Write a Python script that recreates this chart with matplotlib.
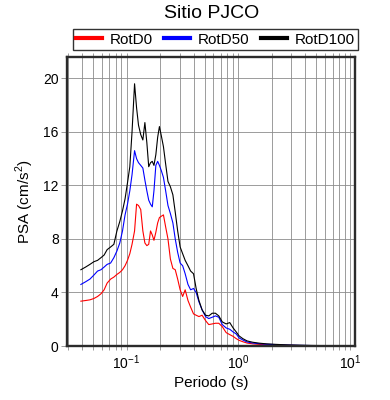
import matplotlib
matplotlib.use("Agg")
import matplotlib.pyplot as plt
from matplotlib.ticker import LogLocator, NullFormatter, MultipleLocator

plt.rcParams['font.family'] = ['Liberation Sans', 'DejaVu Sans']
plt.rcParams['mathtext.fontset'] = 'custom'
plt.rcParams['mathtext.rm'] = 'Liberation Sans'

# periods (s)
periodo = [0.039, 0.043, 0.047, 0.051, 0.055, 0.059, 0.063, 0.067, 0.072, 0.077,
           0.082, 0.087, 0.092, 0.097, 0.102, 0.107, 0.112, 0.118, 0.123, 0.128,
           0.134, 0.140, 0.146, 0.152, 0.158, 0.164, 0.170, 0.176, 0.183, 0.190,
           0.197, 0.205, 0.214, 0.224, 0.235, 0.247, 0.26, 0.273, 0.287, 0.302,
           0.318, 0.335, 0.355, 0.375, 0.398, 0.42, 0.445, 0.475, 0.51, 0.545,
           0.585, 0.625, 0.67, 0.72, 0.78, 0.84, 0.9, 0.96, 1.02, 1.1,
           1.2, 1.35, 1.55, 1.8, 2.2, 2.8, 3.5, 4.5, 6.0, 8.0, 11.0]

rotd0 = [3.35, 3.4, 3.45, 3.55, 3.7, 3.9, 4.2, 4.7, 5.0, 5.15,
         5.35, 5.5, 5.7, 6.0, 6.4, 6.9, 7.6, 8.6, 10.6, 10.5,
         10.2, 8.6, 7.7, 7.5, 7.6, 8.6, 8.3, 7.9, 8.5, 9.2,
         9.6, 9.7, 9.8, 8.9, 8.0, 6.5, 5.8, 5.7, 5.0, 4.2,
         3.7, 4.2, 3.4, 2.9, 2.4, 2.3, 2.2, 2.3, 1.9, 1.6,
         1.65, 1.7, 1.7, 1.45, 1.0, 0.85, 0.72, 0.55, 0.42, 0.32,
         0.22, 0.16, 0.12, 0.09, 0.07, 0.05, 0.035, 0.025, 0.02, 0.012, 0.008]

rotd50 = [4.6, 4.8, 5.0, 5.3, 5.6, 5.7, 5.9, 6.1, 6.2, 6.6,
          7.1, 7.7, 8.6, 9.8, 10.6, 11.6, 12.8, 14.6, 14.0, 13.7,
          13.5, 13.3, 12.4, 11.6, 10.9, 10.6, 10.4, 11.6, 13.5, 13.8,
          13.5, 13.1, 12.6, 11.6, 10.5, 9.9, 9.2, 8.0, 7.0, 6.2,
          6.0, 5.4, 4.6, 4.2, 4.3, 4.0, 3.3, 2.7, 2.2, 2.05,
          2.15, 2.25, 2.15, 1.6, 1.35, 1.25, 1.05, 0.9, 0.6, 0.45,
          0.3, 0.22, 0.17, 0.13, 0.1, 0.07, 0.05, 0.035, 0.025, 0.015, 0.01]

rotd100 = [5.7, 5.9, 6.1, 6.3, 6.4, 6.6, 6.8, 7.2, 7.4, 7.6,
           8.6, 9.3, 10.1, 11.0, 12.2, 13.4, 16.0, 19.6, 17.8, 16.5,
           15.8, 15.4, 16.7, 15.2, 13.4, 13.7, 13.8, 13.5, 14.3, 15.6,
           16.4, 15.7, 14.9, 13.6, 12.3, 11.9, 11.3, 10.0, 8.6, 7.4,
           6.9, 6.4, 6.0, 5.6, 5.4, 4.3, 3.4, 2.7, 2.3, 2.25,
           2.45, 2.45, 2.25, 1.8, 1.65, 1.75, 1.35, 1.05, 0.75, 0.55,
           0.38, 0.28, 0.21, 0.16, 0.12, 0.08, 0.06, 0.04, 0.03, 0.02, 0.01]

fig = plt.figure(figsize=(3.9, 4.0), dpi=100)
ax = fig.add_axes([67/390, 1 - 346/400, (354.5 - 67)/390, (346 - 57)/400])

ax.plot(periodo, rotd0, color='red', lw=0.8, label='RotD0')
ax.plot(periodo, rotd50, color='blue', lw=0.8, label='RotD50')
ax.plot(periodo, rotd100, color='black', lw=0.8, label='RotD100')

ax.set_xscale('log')
ax.set_xlim(0.0293, 11.0)
ax.set_ylim(0, 21.6)
ax.yaxis.set_major_locator(MultipleLocator(4))
ax.xaxis.set_major_locator(LogLocator(base=10, numticks=10))
ax.xaxis.set_minor_locator(LogLocator(base=10, subs=range(2, 10), numticks=20))
ax.xaxis.set_minor_formatter(NullFormatter())

grid_col = '#8c8c8c'
ax.grid(True, which='both', axis='x', color=grid_col, lw=0.6)
ax.grid(True, which='major', axis='y', color=grid_col, lw=0.6)
ax.set_axisbelow(True)
ax.tick_params(axis='x', which='both', direction='out', length=3, width=0.6,
               color=grid_col, top=True, labelsize=10, pad=2)
ax.tick_params(axis='y', which='major', direction='out', length=4, width=0.6,
               color=grid_col, labelsize=10, pad=2)
for s in ax.spines.values():
    s.set_linewidth(1.7)
    s.set_color('#2b2b2b')

ax.set_xlabel('Periodo (s)', fontsize=11, labelpad=3)
ax.set_ylabel('PSA (cm/s$^2$)', fontsize=11, labelpad=5)

fig.text(212/390, 1 - 13/400, 'Sitio PJCO', ha='center', va='center', fontsize=14)

leg = fig.legend(loc='center', bbox_to_anchor=(73/390, 1 - 50/400, 285/390, 21/400),
                 mode='expand', ncol=3, fancybox=False, edgecolor='black',
                 fontsize=11, handlelength=1.7, handletextpad=0.5,
                 borderaxespad=0, borderpad=0.2, columnspacing=1.2)
leg.get_frame().set_linewidth(1.0)
for line in leg.get_lines():
    line.set_linewidth(3)

fig.savefig('out.png', dpi=100)
